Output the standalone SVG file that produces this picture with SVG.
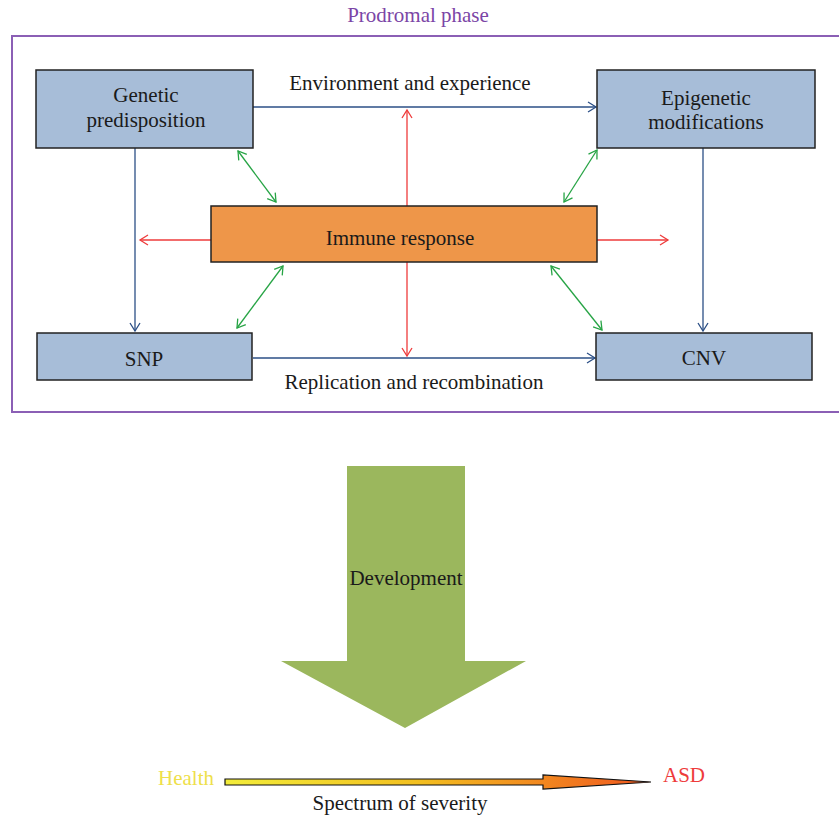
<svg xmlns="http://www.w3.org/2000/svg" width="839" height="817" viewBox="0 0 839 817">
<style>
text{font-family:"Liberation Serif","Times New Roman",serif;font-size:21px;fill:#1a1a1a;text-anchor:middle}
.box{fill:#a7bdd8;stroke:#222;stroke-width:1.5}
.blue{stroke:#2b4f86;stroke-width:1.3;fill:none;marker-end:url(#mb)}
.red{stroke:#ee3b3b;stroke-width:1.3;fill:none;marker-end:url(#mr)}
.green{stroke:#27a445;stroke-width:1.3;fill:none;marker-start:url(#mg);marker-end:url(#mg)}
</style>
<defs>
<marker id="mb" markerUnits="userSpaceOnUse" markerWidth="12" markerHeight="14" refX="9" refY="6" orient="auto-start-reverse" overflow="visible"><path d="M1,1 L9,6 L1,11" fill="none" stroke="#2b4f86" stroke-width="1.3"/></marker>
<marker id="mr" markerUnits="userSpaceOnUse" markerWidth="12" markerHeight="14" refX="9" refY="6" orient="auto-start-reverse" overflow="visible"><path d="M1,1 L9,6 L1,11" fill="none" stroke="#ee3b3b" stroke-width="1.3"/></marker>
<marker id="mg" markerUnits="userSpaceOnUse" markerWidth="12" markerHeight="14" refX="9" refY="6" orient="auto-start-reverse" overflow="visible"><path d="M1,1 L9,6 L1,11" fill="none" stroke="#27a445" stroke-width="1.3"/></marker>
<linearGradient id="sev" x1="0" y1="0" x2="1" y2="0">
<stop offset="0" stop-color="#f2ec3a"/>
<stop offset="0.45" stop-color="#f3c020"/>
<stop offset="1" stop-color="#f0561f"/>
</linearGradient>
</defs>
<g id="frame">
<rect x="12" y="36" width="832" height="376" fill="none" stroke="#8b5fb5" stroke-width="2"/>
<text x="418" y="22" style="fill:#7b45a6">Prodromal phase</text>
</g>
<g id="connectors">
<path class="blue" d="M253,107 H596"/>
<path class="blue" d="M135,148 V331"/>
<path class="blue" d="M703,148 V331"/>
<path class="blue" d="M253,358 H595"/>
<path class="red" d="M407,206 V110"/>
<path class="red" d="M407,262 V356"/>
<path class="red" d="M211,240 H140"/>
<path class="red" d="M597,240 H668"/>
<path class="green" d="M238,151 L276,202"/>
<path class="green" d="M597,150 L564,202"/>
<path class="green" d="M283,266 L237,328"/>
<path class="green" d="M551,266 L602,330"/>
</g>
<g id="genetic">
<rect class="box" x="36" y="70" width="217" height="78"/>
<text x="146" y="102">Genetic</text>
<text x="146" y="127">predisposition</text>
</g>
<g id="epigenetic">
<rect class="box" x="597" y="70" width="218" height="78"/>
<text x="706" y="105">Epigenetic</text>
<text x="706" y="129">modifications</text>
</g>
<g id="snp">
<rect class="box" x="37" y="333" width="215" height="47"/>
<text x="144" y="366">SNP</text>
</g>
<g id="cnv">
<rect class="box" x="596" y="333" width="216" height="47"/>
<text x="704" y="365">CNV</text>
</g>
<g id="immune">
<rect x="211" y="206" width="386" height="56" fill="#ee9649" stroke="#222" stroke-width="1.5"/>
<text x="400" y="245">Immune response</text>
</g>
<g id="labels">
<text x="410" y="90">Environment and experience</text>
<text x="414" y="389">Replication and recombination</text>
</g>
<g id="development">
<polygon points="347,466 465,466 465,661 526,661 405,728 281,661 347,661" fill="#9bb75d"/>
<text x="406" y="585">Development</text>
</g>
<g id="severity">
<polygon points="225,779 543,779 543,775 651,782 543,789 543,785 225,785" fill="url(#sev)" stroke="#111" stroke-width="1.2" stroke-linejoin="miter"/>
<text x="186" y="785" style="fill:#eee04a">Health</text>
<text x="684" y="782" style="fill:#ee3b3b">ASD</text>
<text x="400" y="810">Spectrum of severity</text>
</g>
</svg>
